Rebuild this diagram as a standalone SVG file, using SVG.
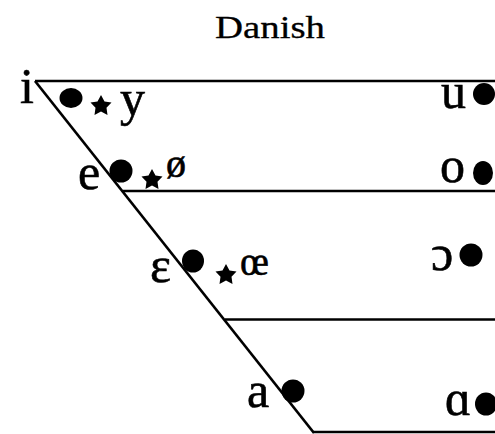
<svg xmlns="http://www.w3.org/2000/svg" xmlns:xlink="http://www.w3.org/1999/xlink" width="495" height="434" viewBox="0 0 495 434">
<style>
text{font-family:"Liberation Serif","Times New Roman",serif;fill:#000;stroke:#000;stroke-width:0.6}
.v{font-size:50px}
.s{font-size:40px}
.t{font-size:32px;stroke-width:0.3}
.ln{stroke:#000;stroke-width:2.7;fill:none;stroke-linecap:butt}
.dot{fill:#000}
</style>
<defs>
<path id="star" d="M0,-11 L3.5,-4.6 L10.5,-3.4 L5.5,1.8 L6.5,9 L0,5.6 L-6.5,9 L-5.5,1.8 L-10.5,-3.4 L-3.5,-4.6 Z" fill="#000"/>
</defs>
<rect width="495" height="434" fill="#fff"/>
<g id="title"><text class="t" x="215" y="38" textLength="110" lengthAdjust="spacingAndGlyphs">Danish</text></g>
<g id="connectors">
<line class="ln" x1="35" y1="81" x2="495" y2="81"/>
<line class="ln" x1="35" y1="81" x2="314" y2="433"/>
<line class="ln" x1="123" y1="191" x2="495" y2="191"/>
<line class="ln" x1="225" y1="319.5" x2="495" y2="319.5"/>
<line class="ln" x1="313" y1="432" x2="495" y2="432"/>
</g>
<g id="node-i"><text class="v" x="20" y="103">i</text><ellipse class="dot" cx="71" cy="98" rx="11.5" ry="10"/></g>
<g id="node-y"><use xlink:href="#star" x="101" y="106"/><text class="v" x="120" y="115">y</text></g>
<g id="node-e"><text class="v" x="78" y="189">e</text><ellipse class="dot" cx="121" cy="171" rx="11.5" ry="11.5"/></g>
<g id="node-oslash"><use xlink:href="#star" x="152" y="180"/><text class="s" x="166" y="177">ø</text></g>
<g id="node-epsilon"><text class="v" x="150" y="282">ɛ</text><ellipse class="dot" cx="193" cy="261" rx="11" ry="11.5"/></g>
<g id="node-oe"><use xlink:href="#star" x="226" y="275"/><text class="s" x="240" y="275">œ</text></g>
<g id="node-a"><text class="v" x="247" y="407">a</text><ellipse class="dot" cx="293" cy="391" rx="11.5" ry="11.5"/></g>
<g id="node-u"><text class="v" x="441" y="108">u</text><ellipse class="dot" cx="484" cy="94" rx="11" ry="11"/></g>
<g id="node-o"><text class="v" x="440" y="182">o</text><ellipse class="dot" cx="483" cy="173" rx="10" ry="12"/></g>
<g id="node-openo"><text class="v" x="431" y="270">ɔ</text><ellipse class="dot" cx="471" cy="255" rx="11.5" ry="11.5"/></g>
<g id="node-alpha"><text class="v" x="445" y="415">ɑ</text><ellipse class="dot" cx="486" cy="404" rx="11" ry="11.5"/></g>
</svg>
